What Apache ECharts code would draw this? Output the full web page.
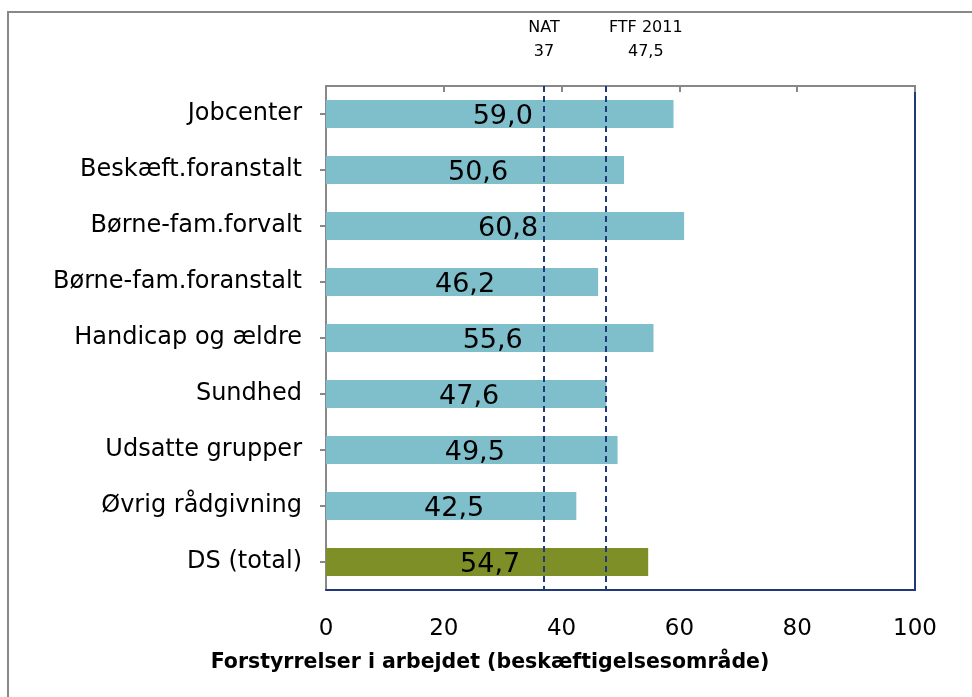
<!DOCTYPE html>
<html>
<head>
<meta charset="utf-8">
<script src="https://cdn.jsdelivr.net/npm/echarts@6/dist/echarts.min.js"></script>
<style>
  html, body { margin: 0; padding: 0; background: #fff; }
  #chart { width: 972px; height: 697px; }
</style>
</head>
<body>
<div id="chart"></div>
<script>
const font = '"DejaVu Sans", Tahoma, sans-serif'

const rows = [
  { name: 'Jobcenter', value: 59.0 },
  { name: 'Beskæft.foranstalt', value: 50.6 },
  { name: 'Børne-fam.forvalt', value: 60.8 },
  { name: 'Børne-fam.foranstalt', value: 46.2 },
  { name: 'Handicap og ældre', value: 55.6 },
  { name: 'Sundhed', value: 47.6 },
  { name: 'Udsatte grupper', value: 49.5 },
  { name: 'Øvrig rådgivning', value: 42.5 },
  { name: 'DS (total)', value: 54.7, total: true }
]

// reference lines; second label sits to the right of its line
const refs = [
  { label: 'NAT\n37', value: 37, dx: 0 },
  { label: 'FTF 2011\n47,5', value: 47.5, dx: 40 }
]

const blue = '#7fbfcc'
const olive = '#7f8f27'
const navy = '#1f3a7a'
const gray = '#888888'

const chart = echarts.init(document.getElementById('chart'), null, { renderer: 'canvas' })

chart.setOption({
  backgroundColor: '#fff',
  animation: false,
  textStyle: { fontFamily: font },
  grid: { left: 326, right: 57, top: 86, bottom: 107, containLabel: false },
  xAxis: [
    {
      type: 'value',
      position: 'bottom',
      min: 0,
      max: 100,
      interval: 20,
      axisLine: { show: true, onZero: false, lineStyle: { color: navy, width: 2 } },
      axisTick: { show: false },
      splitLine: { show: false },
      axisLabel: { color: '#000', fontSize: 23, margin: 28, fontFamily: font }
    },
    {
      type: 'value',
      position: 'top',
      min: 0,
      max: 100,
      interval: 20,
      axisLine: { show: true, onZero: false, lineStyle: { color: gray, width: 2 } },
      axisTick: { show: true, inside: true, length: 6, lineStyle: { color: gray, width: 2 } },
      splitLine: { show: false },
      axisLabel: { show: false }
    }
  ],
  yAxis: [
    {
      type: 'category',
      position: 'left',
      inverse: true,
      data: rows.map((r) => r.name),
      axisLine: { show: true, onZero: false, lineStyle: { color: gray, width: 2 } },
      axisTick: { show: true, alignWithLabel: true, length: 6, lineStyle: { color: gray, width: 2 } },
      axisLabel: { color: '#000', fontSize: 24, margin: 24, padding: [5, 0, 0, 0], fontFamily: font }
    },
    {
      type: 'category',
      position: 'right',
      inverse: true,
      data: rows.map((r) => r.name),
      axisLine: { show: true, onZero: false, lineStyle: { color: navy, width: 2 } },
      axisTick: { show: false },
      axisLabel: { show: false }
    }
  ],
  series: [
    {
      type: 'bar',
      xAxisIndex: 0,
      yAxisIndex: 0,
      barWidth: '50%',
      data: rows.map((r) => ({ value: r.value, itemStyle: { color: r.total ? olive : blue } })),
      label: {
        show: true,
        position: 'inside',
        offset: [3, 3],
        color: '#000',
        fontSize: 27,
        fontFamily: font,
        formatter: (p) => p.value.toFixed(1).replace('.', ',')
      },
      markLine: {
        silent: true,
        symbol: ['none', 'none'],
        lineStyle: { color: navy, width: 2, type: [6, 4] },
        label: {
          show: true,
          position: 'start',
          distance: 22,
          color: '#000',
          fontSize: 16,
          lineHeight: 24,
          fontFamily: font,
          formatter: (p) => p.name
        },
        data: refs.map((r) => ({ name: r.label, xAxis: r.value, label: { offset: [r.dx, 0] } }))
      }
    }
  ],
  graphic: [
    {
      type: 'rect',
      silent: true,
      shape: { x: 8, y: 12, width: 1000, height: 720 },
      style: { fill: 'none', stroke: gray, lineWidth: 2 }
    },
    {
      type: 'text',
      silent: true,
      x: 490,
      y: 663,
      style: {
        text: 'Forstyrrelser i arbejdet (beskæftigelsesområde)',
        fill: '#000',
        font: 'bold 20.5px ' + font,
        textAlign: 'center',
        textVerticalAlign: 'middle'
      }
    }
  ]
})
</script>
</body>
</html>
